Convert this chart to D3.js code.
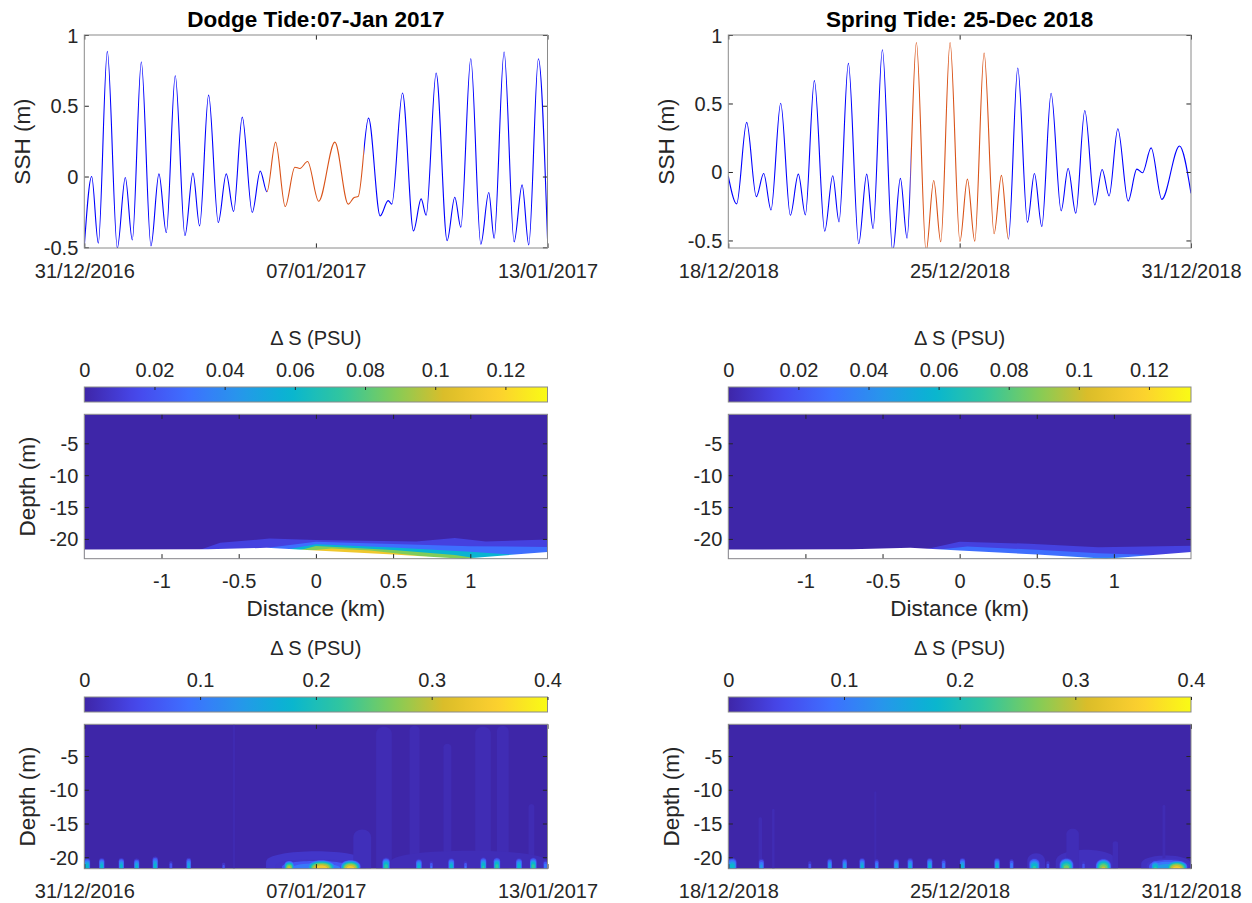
<!DOCTYPE html>
<html>
<head>
<meta charset="utf-8">
<script src="https://cdn.jsdelivr.net/npm/d3@7"></script>
<style>
  body { margin: 0; background: #fff; }
  svg { display: block; font-family: "Liberation Sans", Arial, Helvetica, sans-serif; }
</style>
</head>
<body>
<svg id="fig" width="1252" height="903"></svg>
<script>
// ---------------- sea-surface height: turning points of the tide ----------------
// days counted from the start of each record
const sshLeftStart = "2016-12-31T12:00";
const sshLeftEnd = "2017-01-13T12:00";
const sshLeftTicks = ["2016-12-31T12:00", "2017-01-07T00:00", "2017-01-13T12:00"];
const sshLeftDay = [0, 0.207, 0.394, 0.646, 0.927, 1.151, 1.347, 1.600, 1.871, 2.095, 2.301, 2.553, 2.825, 3.049,
  3.236, 3.489, 3.760, 3.984, 4.190, 4.433, 4.713, 4.938, 5.125, 5.368, 5.639, 5.910, 6.050, 6.266, 6.578,
  7.032, 7.406, 7.574, 7.687, 7.977, 8.304, 8.528, 8.631, 8.930, 9.239, 9.454, 9.594, 9.875, 10.183, 10.398,
  10.567, 10.847, 11.128, 11.352, 11.502, 11.782, 12.063, 12.287, 12.474, 12.745, 13.0];
const sshLeftValue = [-0.495, 0.0, -0.471, 0.884, -0.505, -0.007, -0.448, 0.809, -0.49, 0.019, -0.396, 0.712, -0.417, 0.024,
  -0.349, 0.575, -0.325, 0.019, -0.247, 0.42, -0.254, 0.038, -0.108, 0.243, -0.212, 0.066, 0.057, 0.106, -0.175,
  0.243, -0.195, -0.148, -0.141, 0.413, -0.278, -0.17, -0.195, 0.59, -0.384, -0.158, -0.273, 0.731, -0.453, -0.146,
  -0.358, 0.832, -0.478, -0.113, -0.436, 0.88, -0.462, -0.059, -0.483, 0.832, -0.44];
const sshLeftWindow = [5.125, 7.846];
const sshLeftRange = [-0.505, 1];

const sshRightStart = "2018-12-18T12:00";
const sshRightEnd = "2018-12-31T12:00";
const sshRightTicks = ["2018-12-18T12:00", "2018-12-25T00:00", "2018-12-31T12:00"];
const sshRightDay = [0, 0.235, 0.516, 0.788, 0.994, 1.200, 1.472, 1.743, 1.968, 2.165, 2.418, 2.709, 2.934, 3.111,
  3.374, 3.664, 3.889, 4.067, 4.329, 4.620, 4.835, 5.022, 5.285, 5.557, 5.772, 5.969, 6.231, 6.508, 6.718, 6.925,
  7.187, 7.468, 7.674, 7.871, 8.133, 8.405, 8.601, 8.808, 9.070, 9.351, 9.548, 9.763, 10.016, 10.297, 10.503,
  10.700, 10.944, 11.234, 11.478, 11.637, 11.880, 12.180, 12.677, 13.0];
const sshRightValue = [-0.03, -0.233, 0.362, -0.18, -0.011, -0.277, 0.502, -0.316, -0.016, -0.313, 0.667, -0.432, -0.028, -0.364,
  0.793, -0.524, -0.016, -0.413, 0.892, -0.58, -0.047, -0.483, 0.945, -0.58, -0.062, -0.509, 0.945, -0.507, -0.052, -0.505,
  0.868, -0.451, -0.025, -0.49, 0.759, -0.367, -0.011, -0.398, 0.575, -0.284, 0.025, -0.301, 0.449, -0.241, 0.018,
  -0.175, 0.316, -0.212, 0.021, -0.006, 0.176, -0.2, 0.19, -0.156];
const sshRightWindow = [5.125, 7.871];
const sshRightRange = [-0.555, 1];
const sshTicks = [-0.5, 0, 0.5, 1];

// ---------------- cross-channel section of salinity difference ----------------
const distTicks = [-1, -0.5, 0, 0.5, 1];
const depthTicks = [-20, -15, -10, -5];
const sectionDist = [-1.5, 1.5];
const sectionDepth = [-23.1, -0.45];
const seabed = [[-1.5, -21.66], [-0.7, -21.6], [-0.32, -21.4], [0, -21.8], [0.5, -22.45], [0.95, -23.1], [1.5, -22.05]];

const sectionLeftLevel = [0.012, 0.029, 0.058, 0.088, 0.112];
const sectionLeftEdge = [
  [[-0.75, -21.7], [-0.62, -20.6], [-0.3, -19.95], [0, -20.15], [0.65, -20.4], [0.9, -19.85], [1.1, -20.4], [1.5, -20.1]],
  [[-0.35, -21.5], [0, -20.45], [0.5, -20.8], [1.0, -21.15], [1.5, -21.25]],
  [[-0.2, -21.7], [0, -20.85], [0.5, -21.35], [1.0, -22.0], [1.3, -22.5]],
  [[-0.1, -21.75], [0, -21.1], [0.5, -21.75], [0.9, -22.5], [1.05, -23.05]],
  [[-0.05, -21.85], [0.1, -21.5], [0.35, -21.8], [0.72, -22.8]]
];
const sectionRightLevel = [0.012, 0.029, 0.042];
const sectionRightEdge = [
  [[-0.22, -21.6], [0, -20.45], [0.45, -20.75], [0.9, -21.3], [1.5, -21.05]],
  [[-0.15, -21.7], [0.05, -21.2], [0.5, -21.7], [0.9, -22.25], [1.3, -22.55]],
  [[0.55, -22.6], [0.9, -22.9], [1.12, -22.85]]
];
const cbSectionTicks = [0, 0.02, 0.04, 0.06, 0.08, 0.1, 0.12];
const cbSectionMax = 0.132;

// ---------------- time-depth salinity difference ----------------
const hovDepth = [-21.7, -0.3];
const hovLevels = [0.02, 0.06, 0.1, 0.14, 0.18, 0.22, 0.26, 0.3, 0.34, 0.38];
const cbHovTicks = [0, 0.1, 0.2, 0.3, 0.4];
const cbHovMax = 0.4;
// near-bed pulses: [day, half width (days), top depth, peak]
const hovLeftPulses = [
  [0.08, 0.09, -19.9, 0.22], [0.49, 0.08, -19.9, 0.21], [1.04, 0.08, -19.9, 0.21], [1.47, 0.08, -20.0, 0.2],
  [1.99, 0.08, -19.7, 0.21], [2.43, 0.05, -20.4, 0.1], [2.93, 0.07, -19.9, 0.19], [3.91, 0.05, -20.6, 0.08],
  [6.5, 1.22, -19.8, 0.13], [5.75, 0.15, -20.2, 0.32], [6.65, 0.42, -20.0, 0.38], [7.47, 0.3, -20.0, 0.37],
  [8.47, 0.11, -19.8, 0.25], [9.39, 0.09, -20.0, 0.2], [9.74, 0.05, -20.4, 0.11], [10.3, 0.09, -19.9, 0.21],
  [10.7, 0.05, -20.4, 0.11], [11.2, 0.09, -19.8, 0.23], [11.58, 0.1, -19.8, 0.25], [12.2, 0.09, -19.9, 0.21],
  [12.6, 0.1, -19.8, 0.25], [12.94, 0.06, -20.3, 0.14]
];
// faint columns: [start day, end day, top depth, value]
const hovLeftPlumes = [
  [4.17, 4.23, -0.3, 0.006], [5.1, 7.9, -18.6, 0.022], [7.55, 8.05, -15.5, 0.012], [8.19, 8.63, -0.3, 0.008],
  [9.13, 9.41, -0.3, 0.008], [10.08, 10.3, -3.0, 0.008], [10.97, 11.41, -0.3, 0.008], [11.58, 11.91, -0.3, 0.008],
  [12.47, 12.63, -12.0, 0.008], [8.6, 13.0, -18.5, 0.01]
];
const hovRightPulses = [
  [0.11, 0.13, -19.8, 0.22], [0.93, 0.08, -20.0, 0.16], [2.29, 0.05, -20.4, 0.09], [2.85, 0.07, -20.0, 0.18],
  [3.27, 0.07, -20.0, 0.18], [3.76, 0.08, -19.9, 0.2], [4.17, 0.06, -20.1, 0.15], [4.72, 0.08, -20.0, 0.18],
  [5.11, 0.08, -19.9, 0.19], [5.66, 0.08, -19.9, 0.2], [6.05, 0.06, -20.1, 0.14], [6.58, 0.08, -19.9, 0.2],
  [7.55, 0.08, -19.9, 0.2], [7.96, 0.06, -20.1, 0.14], [8.6, 0.16, -19.8, 0.23], [8.98, 0.05, -20.4, 0.09],
  [9.5, 0.21, -19.7, 0.28], [9.98, 0.05, -20.4, 0.09], [10.54, 0.23, -19.8, 0.31], [12.35, 0.63, -19.75, 0.17],
  [12.0, 0.13, -20.2, 0.23], [12.6, 0.32, -20.1, 0.37]
];
const hovRightPlumes = [
  [0.85, 0.95, -14.0, 0.008], [1.23, 1.3, -12.8, 0.008], [4.1, 4.16, -10.2, 0.006], [8.4, 8.9, -19.0, 0.015],
  [9.2, 10.9, -18.3, 0.014], [9.5, 9.85, -15.5, 0.01], [10.8, 10.95, -17.5, 0.01], [11.6, 13.0, -19.3, 0.015],
  [12.2, 12.28, -12.2, 0.008]
];

// ---------------- layout ----------------
const colLeft = [84.3, 547.5], colRight = [728.3, 1191];
const rowTop = [35, 248], rowMid = [414.3, 558.7], rowBot = [724.3, 868.7];
const cbMid = [387, 402], cbBot = [697, 712];
const TICK = 4.6, FS = 20, FL = 22.5;
const inkCol = "#262626", boxCol = "#8a8a8a";

const parula = d3.scaleLinear()
  .domain(d3.range(10).map(i => i / 9))
  .range(["#3e26a8", "#4747eb", "#3e6fff", "#2796eb", "#08b5d0", "#31c69f", "#81cc59", "#dcbd29", "#fccf30", "#f9fb15"])
  .interpolate(d3.interpolateRgb).clamp(true);

const parseT = d3.timeParse("%Y-%m-%dT%H:%M");
const fmtT = d3.timeFormat("%d/%m/%Y");
const dayMs = 864e5;
const svg = d3.select("#fig");
const defs = svg.append("defs");

function styleAxis(g) {
  g.select(".domain").remove();
  g.attr("font-family", null).attr("font-size", null);
  g.selectAll(".tick line").attr("stroke", inkCol).attr("stroke-width", 1);
  g.selectAll(".tick text").attr("fill", inkCol).style("font-size", FS + "px");
}

// box with inward ticks on all four sides, labels bottom and left
function frame(xs, ys, xVals, yVals, xFmt, yFmt, showX) {
  const [x0, x1] = xs.range();
  const [y1, y0] = ys.range();
  const g = svg.append("g");
  g.append("g").attr("transform", `translate(0,${y1})`)
    .call(d3.axisBottom(xs).tickValues(xVals).tickSize(-TICK).tickFormat(showX ? xFmt : ""))
    .call(styleAxis)
    .call(a => a.selectAll(".tick text").attr("y", 29.5).attr("dy", null));
  g.append("g").attr("transform", `translate(0,${y0})`)
    .call(d3.axisTop(xs).tickValues(xVals).tickSize(-TICK).tickFormat("")).call(styleAxis);
  g.append("g").attr("transform", `translate(${x0},0)`)
    .call(d3.axisLeft(ys).tickValues(yVals).tickSize(-TICK).tickPadding(6).tickFormat(yFmt))
    .call(styleAxis)
    .call(a => a.selectAll(".tick text").attr("dy", "0.35em"));
  g.append("g").attr("transform", `translate(${x1},0)`)
    .call(d3.axisRight(ys).tickValues(yVals).tickSize(-TICK).tickFormat("")).call(styleAxis);
  g.append("rect").attr("x", x0).attr("y", y0).attr("width", x1 - x0).attr("height", y1 - y0)
    .attr("fill", "none").attr("stroke", boxCol).attr("stroke-width", 1);
}

function yLabel(text, x, row) {
  svg.append("text")
    .attr("transform", `translate(${x},${(row[0] + row[1]) / 2}) rotate(-90)`)
    .attr("text-anchor", "middle").attr("fill", inkCol).style("font-size", FL + "px").text(text);
}

function clipRect(id, x0, y0, x1, y1) {
  defs.append("clipPath").attr("id", id).append("rect")
    .attr("x", x0).attr("y", y0).attr("width", x1 - x0).attr("height", y1 - y0);
  return `url(#${id})`;
}

function colorbar(id, col, band, ticks, vmax) {
  const cs = d3.scaleLinear().domain([0, vmax]).range(col);
  const grad = defs.append("linearGradient").attr("id", id).attr("x1", 0).attr("x2", 1).attr("y1", 0).attr("y2", 0);
  d3.range(41).forEach(i => grad.append("stop").attr("offset", i / 40).attr("stop-color", parula(i / 40)));
  svg.append("rect").attr("x", col[0]).attr("y", band[0]).attr("width", col[1] - col[0]).attr("height", band[1] - band[0])
    .attr("fill", `url(#${id})`).attr("stroke", boxCol).attr("stroke-width", 1);
  const g = svg.append("g").attr("transform", `translate(0,${band[0]})`)
    .call(d3.axisTop(cs).tickValues(ticks).tickSize(-3).tickFormat(d => String(d)))
    .call(styleAxis)
    .call(a => a.selectAll(".tick text").attr("y", -10).attr("dy", null));
  g.selectAll(".tick line").filter(d => d === 0).remove();
  svg.append("text").attr("x", (col[0] + col[1]) / 2).attr("y", band[0] - 42)
    .attr("text-anchor", "middle").attr("fill", inkCol).style("font-size", FS + "px").text("\u0394 S (PSU)");
}

// rounded-top column from the bed up to yt
function columnPath(x0, x1, yt, yb) {
  const rx = Math.max((x1 - x0) / 2, 0.3);
  const ry = Math.min(rx * 1.2, (yb - yt) * 0.6);
  const p = d3.path();
  p.moveTo(x0, yb);
  p.lineTo(x0, yt + ry);
  p.bezierCurveTo(x0, yt, x1, yt, x1, yt + ry);
  p.lineTo(x1, yb);
  p.closePath();
  return p.toString();
}

// ---------------- SSH panels ----------------
function sshPanel(id, col, start, end, ticks, day, value, win, range, title, labelX) {
  const t0 = parseT(start);
  const when = d => new Date(+t0 + d * dayMs);
  const xs = d3.scaleTime().domain([t0, parseT(end)]).range(col);
  const ys = d3.scaleLinear().domain(range).range([rowTop[1], rowTop[0]]);
  const pts = d3.zip(day, value);
  const line = d3.line().x(d => xs(when(d[0]))).y(d => ys(d[1])).curve(d3.curveMonotoneX);
  const xa = xs(when(win[0])), xb = xs(when(win[1]));
  const outside = defs.append("clipPath").attr("id", id + "-out");
  outside.append("rect").attr("x", col[0]).attr("y", rowTop[0]).attr("width", xa - col[0]).attr("height", rowTop[1] - rowTop[0]);
  outside.append("rect").attr("x", xb).attr("y", rowTop[0]).attr("width", col[1] - xb).attr("height", rowTop[1] - rowTop[0]);
  svg.append("path").datum(pts).attr("d", line).attr("fill", "none")
    .attr("stroke", "#0000ff").attr("stroke-width", 1.1).attr("clip-path", `url(#${id}-out)`);
  svg.append("path").datum(pts).attr("d", line).attr("fill", "none")
    .attr("stroke", "#d95319").attr("stroke-width", 1.1)
    .attr("clip-path", clipRect(id + "-in", xa, rowTop[0], xb, rowTop[1]));
  frame(xs, ys, ticks.map(parseT), sshTicks, fmtT, d => String(d), true);
  svg.append("text").attr("x", (col[0] + col[1]) / 2).attr("y", 27).attr("text-anchor", "middle")
    .attr("fill", "#000").style("font-size", FL + "px").style("font-weight", "bold").text(title);
  yLabel("SSH (m)", labelX, rowTop);
}

// ---------------- section panels ----------------
function sectionPanel(id, col, levels, edges, labelX) {
  const xs = d3.scaleLinear().domain(sectionDist).range(col);
  const ys = d3.scaleLinear().domain(sectionDepth).range([rowMid[1], rowMid[0]]);
  const g = svg.append("g").attr("clip-path", clipRect(id + "-clip", col[0], rowMid[0], col[1], rowMid[1]));
  g.append("rect").attr("x", col[0]).attr("y", rowMid[0]).attr("width", col[1] - col[0]).attr("height", rowMid[1] - rowMid[0])
    .attr("fill", parula(0));
  const area = d3.area().x(d => xs(d[0])).y0(rowMid[1] + 5).y1(d => ys(d[1]));
  edges.forEach((e, i) => g.append("path").datum(e).attr("d", area).attr("fill", parula(levels[i] / cbSectionMax)));
  g.append("path").datum(seabed).attr("d", area).attr("fill", "#fff");
  frame(xs, ys, distTicks, depthTicks, d => String(d), d => String(d), true);
  colorbar(id + "-cb", col, cbMid, cbSectionTicks, cbSectionMax);
  svg.append("text").attr("x", (col[0] + col[1]) / 2).attr("y", 616).attr("text-anchor", "middle")
    .attr("fill", inkCol).style("font-size", FL + "px").text("Distance (km)");
  if (labelX != null) yLabel("Depth (m)", labelX, rowMid);
}

// ---------------- time-depth panels ----------------
function hovPanel(id, col, start, end, ticks, pulses, plumes, labelX) {
  const t0 = parseT(start);
  const when = d => new Date(+t0 + d * dayMs);
  const xs = d3.scaleTime().domain([t0, parseT(end)]).range(col);
  const ys = d3.scaleLinear().domain(hovDepth).range([rowBot[1], rowBot[0]]);
  const g = svg.append("g").attr("clip-path", clipRect(id + "-clip", col[0], rowBot[0], col[1], rowBot[1]));
  g.append("rect").attr("x", col[0]).attr("y", rowBot[0]).attr("width", col[1] - col[0]).attr("height", rowBot[1] - rowBot[0])
    .attr("fill", parula(0));
  const yb = rowBot[1] + 3;
  plumes.forEach(p => g.append("path")
    .attr("d", columnPath(xs(when(p[0])), xs(when(p[1])), ys(p[2]), yb))
    .attr("fill", parula(p[3] / cbHovMax)));
  hovLevels.forEach(L => {
    pulses.filter(p => p[3] > L).forEach(p => {
      const f = L / p[3];
      const hw = p[1] * Math.pow(1 - f, 0.4);
      const top = hovDepth[0] + (p[2] - hovDepth[0]) * Math.pow(1 - f, 0.45);
      g.append("path")
        .attr("d", columnPath(xs(when(p[0] - hw)), xs(when(p[0] + hw)), ys(top), yb))
        .attr("fill", parula(L / cbHovMax));
    });
  });
  frame(xs, ys, ticks.map(parseT), depthTicks, fmtT, d => String(d), true);
  colorbar(id + "-cb", col, cbBot, cbHovTicks, cbHovMax);
  yLabel("Depth (m)", labelX, rowBot);
}

sshPanel("sshL", colLeft, sshLeftStart, sshLeftEnd, sshLeftTicks, sshLeftDay, sshLeftValue, sshLeftWindow,
  sshLeftRange, "Dodge Tide:07-Jan 2017", 29.5);
sshPanel("sshR", colRight, sshRightStart, sshRightEnd, sshRightTicks, sshRightDay, sshRightValue, sshRightWindow,
  sshRightRange, "Spring Tide: 25-Dec 2018", 673.5);
sectionPanel("secL", colLeft, sectionLeftLevel, sectionLeftEdge, 35.2);
sectionPanel("secR", colRight, sectionRightLevel, sectionRightEdge, null);
hovPanel("hovL", colLeft, sshLeftStart, sshLeftEnd, sshLeftTicks, hovLeftPulses, hovLeftPlumes, 35.2);
hovPanel("hovR", colRight, sshRightStart, sshRightEnd, sshRightTicks, hovRightPulses, hovRightPlumes, 679);
</script>
</body>
</html>
